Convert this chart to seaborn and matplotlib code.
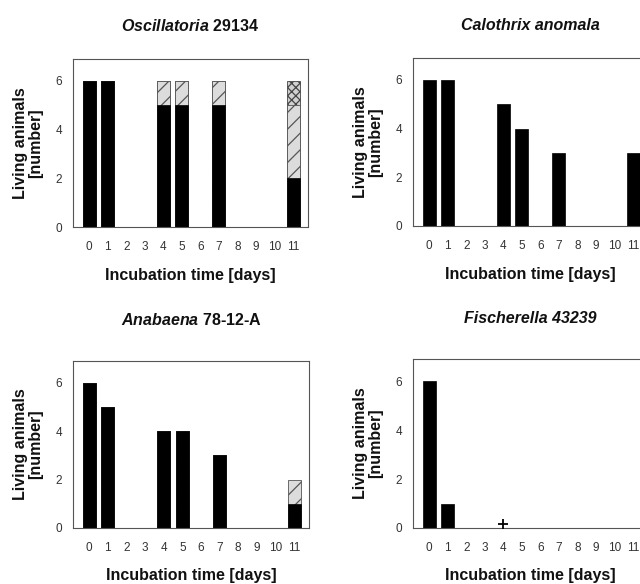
import matplotlib
matplotlib.use("Agg")
import matplotlib.pyplot as plt
import seaborn as sns
import pandas as pd

sns.set_theme(style="white")
plt.rcParams['font.family'] = ['Liberation Sans', 'DejaVu Sans']
plt.rcParams['mathtext.fontset'] = 'custom'
plt.rcParams['mathtext.it'] = 'Liberation Sans:italic:bold'
plt.rcParams['mathtext.rm'] = 'Liberation Sans:bold'
plt.rcParams['hatch.linewidth'] = 0.9

days = list(range(12))
order = [str(d) for d in days]

# Oscillatoria 29134: living / hatched / dotted segments
osc_black = [6, 6, 0, 0, 5, 5, 0, 5, 0, 0, 0, 2]
osc_hatch = [0, 0, 0, 0, 1, 1, 0, 1, 0, 0, 0, 3]
osc_dots = [0, 0, 0, 0, 0, 0, 0, 0, 0, 0, 0, 1]

cal_black = [6, 6, 0, 0, 5, 4, 0, 3, 0, 0, 0, 3]

ana_black = [6, 5, 0, 0, 4, 4, 0, 3, 0, 0, 0, 1]
ana_hatch = [0, 0, 0, 0, 0, 0, 0, 0, 0, 0, 0, 1]

fis_black = [6, 1, 0, 0, 0, 0, 0, 0, 0, 0, 0, 0]
fis_dead_day = [4]
fis_dead_y = [0.15]

fig = plt.figure(figsize=(6.4, 5.84), dpi=100)
W, H = 640, 584


def make_ax(l, r, t, b):
    return fig.add_axes([l / W, 1 - b / H, (r - l) / W, (b - t) / H])


def layer(ax, vals, **kw):
    df = pd.DataFrame({'day': order, 'n': [v if v > 0 else float('nan') for v in vals]})
    sns.barplot(data=df, x='day', y='n', order=order, ax=ax, width=0.7,
                errorbar=None, **kw)


def draw(ax, parts, xpad):
    # stack segments: draw cumulative tops first, lower ones on top of them
    cum = []
    run = [0] * 12
    for vals, style in parts:
        run = [a + b for a, b in zip(run, vals)]
        cum.append((list(run), style))
    for vals, style in reversed(cum):
        if style == 'black':
            layer(ax, vals, color='black', edgecolor='black', linewidth=0.5)
        elif style == 'hatch':
            layer(ax, vals, color='#dcdcdc', edgecolor='#555555', linewidth=0.6,
                  hatch='//', saturation=1)
        else:
            layer(ax, vals, color='#d0d0d0', edgecolor='#444444', linewidth=0.6,
                  hatch='xxxx', saturation=1)
    ax.set_ylim(0, 6.9)
    ax.set_xlim(-0.87, 11.8)
    ax.set_yticks([0, 2, 4, 6])
    ax.tick_params(axis='y', direction='out', length=3, width=0.6,
                   labelsize=8.5, colors='#333333', pad=5)
    ax.tick_params(axis='x', direction='out', length=2, width=0.6,
                   labelsize=8.5, colors='#333333', pad=8)
    for s in ax.spines.values():
        s.set_color('#555555')
        s.set_linewidth(0.8)
    ax.set_xlabel('Incubation time [days]', fontsize=11.5, fontweight='bold',
                  labelpad=xpad, color='#111111')
    ax.set_ylabel('Living animals\n[number]', fontsize=11.5, fontweight='bold',
                  labelpad=9, color='#111111', linespacing=1.0)


ax1 = make_ax(73, 308, 59, 227)
draw(ax1, [(osc_black, 'black'), (osc_hatch, 'hatch'), (osc_dots, 'dots')], 11)
ax1.set_title(r'$\mathit{Oscillatoria}$ 29134', fontsize=11.5, fontweight='bold',
              pad=20, color='#111111')

ax2 = make_ax(413, 648, 58, 226)
draw(ax2, [(cal_black, 'black')], 11)
ax2.set_title('Calothrix anomala', fontsize=11.5, fontweight='bold',
              fontstyle='italic', pad=20, color='#111111')

ax3 = make_ax(73, 309, 361, 528)
draw(ax3, [(ana_black, 'black'), (ana_hatch, 'hatch')], 10.5)
ax3.set_title(r'$\mathit{Anabaena}$ 78-12-A', fontsize=11.5, fontweight='bold',
              pad=26, color='#111111')

ax4 = make_ax(413, 648, 359, 528)
draw(ax4, [(fis_black, 'black')], 10.5)
ax4.set_title('Fischerella 43239', fontsize=11.5, fontweight='bold',
              fontstyle='italic', pad=26, color='#111111')
sns.scatterplot(x=fis_dead_day, y=fis_dead_y, marker='+', s=45, color='black',
                linewidth=1.3, ax=ax4, zorder=5)

fig.savefig('out.png', dpi=100)
